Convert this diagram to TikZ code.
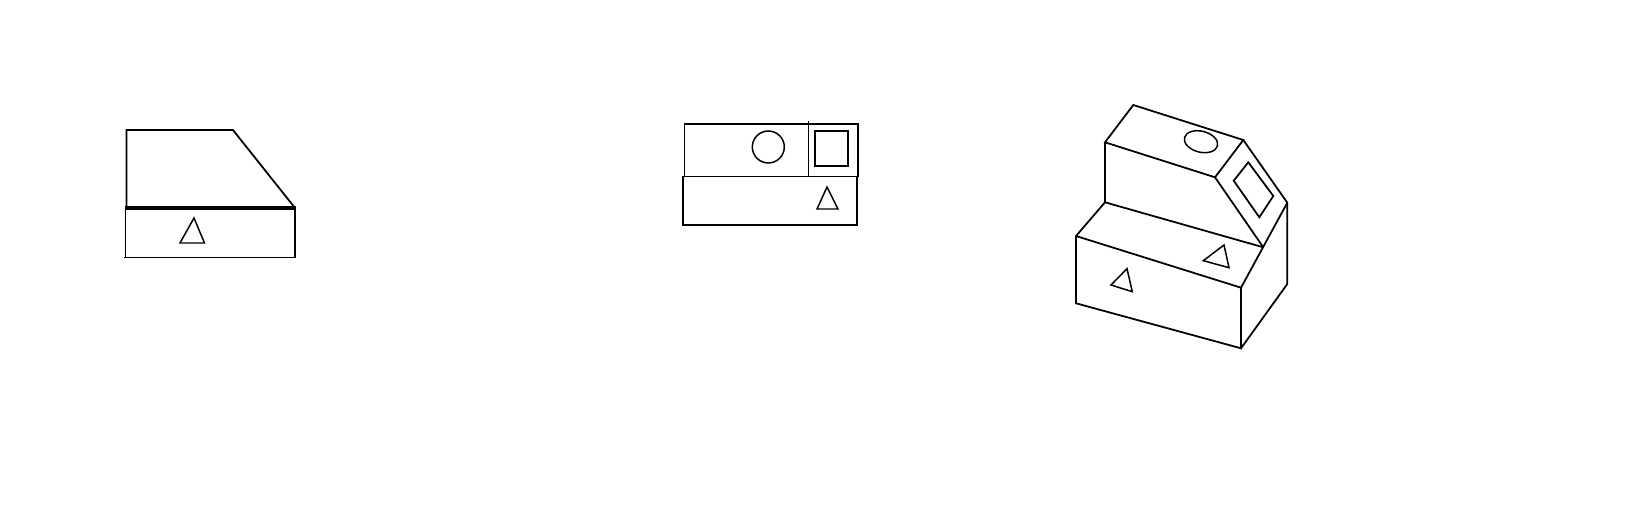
\documentclass[tikz,border=0pt]{standalone}
\usepackage{tikz}
\begin{document}
\begin{tikzpicture}[
  x=0.02cm, y=-0.02cm,
  edge/.style={draw=black, line width=1pt, line join=miter},
  heavy/.style={draw=black, line width=2pt},
  mark3d/.style={draw=black, line width=0.85pt, line join=miter}
]
  \useasboundingbox (0,0) rectangle (1640,520);

  % side view
  \draw[edge] (126.5,208) -- (126.5,130) -- (233,130) -- (295,208);
  \draw[edge] (125.5,208) -- (125.5,257.5);
  \draw[edge] (124,257.5) -- (295,257.5) -- (295,208);
  \draw[heavy] (125,208) -- (296,208);
  \draw[mark3d] (194,218) -- (180,243) -- (204.5,243) -- cycle;

  % top view
  \draw[edge] (684.5,124) rectangle (858,176.5);
  \draw[edge] (808.5,121) -- (808.5,176.5);
  \draw[edge] (683,176.5) rectangle (857,225);
  \draw[mark3d] (768.3,147) circle (16);
  \draw[edge] (815,131) rectangle (848.3,166);
  \draw[mark3d] (827,187) -- (817,209) -- (838,209) -- cycle;

  % solid view
  \coordinate (backtop) at (1133.3,105);
  \coordinate (lefttop) at (1105,142.3);
  \coordinate (backcham) at (1243.3,140);
  \coordinate (frontcham) at (1215,177.3);
  \coordinate (rightcham) at (1287.3,202.7);
  \coordinate (stepmid) at (1263.3,247.3);
  \coordinate (stepback) at (1105,202.3);
  \coordinate (stepfront) at (1076,236);
  \coordinate (frontright) at (1241,287.7);
  \coordinate (lowleft) at (1076,303.3);
  \coordinate (lowfront) at (1241,348.3);
  \coordinate (lowright) at (1287.3,284);

  \draw[edge] (lefttop) -- (backtop) -- (backcham) -- (frontcham) -- cycle;
  \draw[edge] (backcham) -- (rightcham) -- (lowright) -- (lowfront);
  \draw[edge] (frontcham) -- (stepmid);
  \draw[edge] (lefttop) -- (stepback) -- (stepfront) -- (lowleft) -- (lowfront) -- (frontright) -- (stepfront);
  \draw[edge] (stepback) -- (stepmid);
  \draw[edge] (frontright) -- (rightcham);

  \draw[mark3d] (1201,141.7) ellipse [x radius=17, y radius=10.5, rotate=-14];
  \draw[edge] (1248.3,162.3) -- (1273.3,196) -- (1259.3,217.3) -- (1233.7,180.7) -- cycle;
  \draw[mark3d] (1224,245) -- (1203.3,260.7) -- (1229,267.7) -- cycle;
  \draw[mark3d] (1127,268.7) -- (1111,285) -- (1132.3,291.7) -- cycle;
\end{tikzpicture}
\end{document}
